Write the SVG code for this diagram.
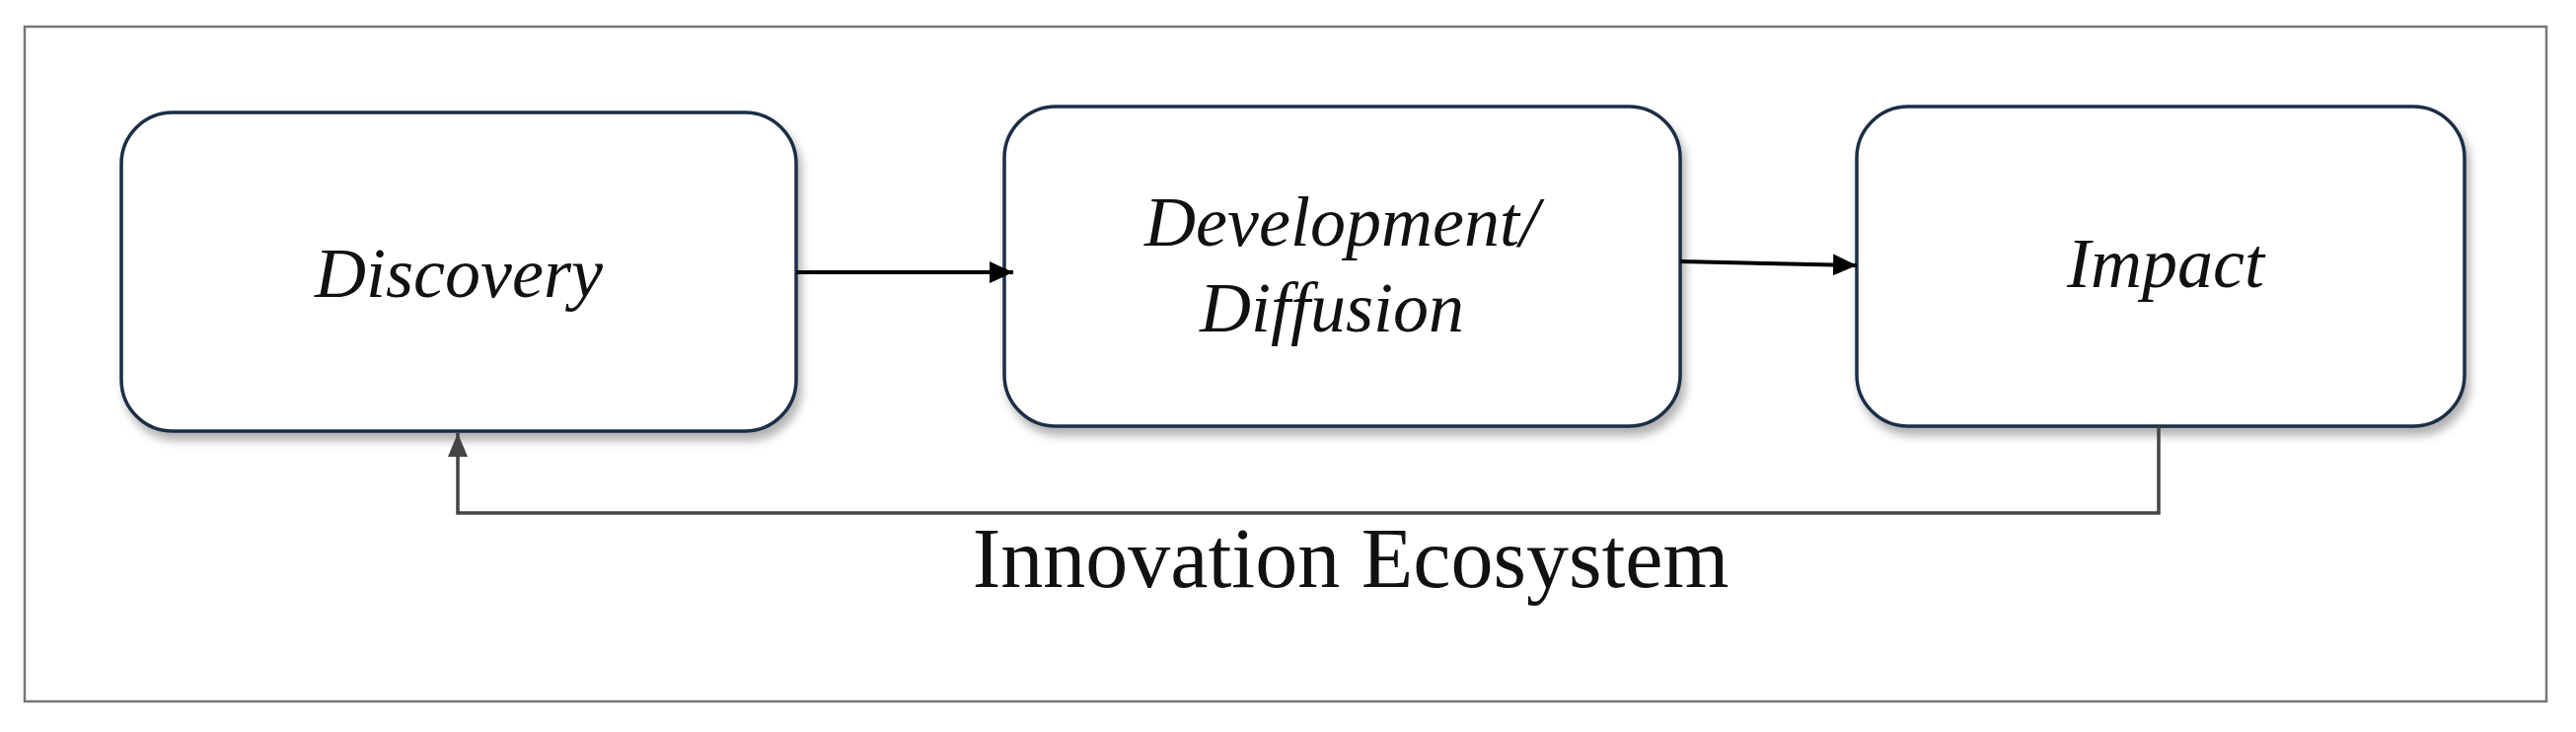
<svg xmlns="http://www.w3.org/2000/svg" width="2611" height="742" viewBox="0 0 2611 742">
<style>
.box{fill:#fff;stroke:#1b2f45;stroke-width:3.5}
.lbl{font-family:"Liberation Serif",serif;font-style:italic;font-size:72px;fill:#111;text-anchor:middle}
.ln{fill:none;stroke-width:4}
</style>
<defs>
<filter id="sh" x="-10%" y="-10%" width="120%" height="130%"><feDropShadow dx="4" dy="8" stdDeviation="5" flood-color="#000" flood-opacity="0.3"/></filter>
<marker id="ah" markerWidth="24" markerHeight="22" refX="24" refY="11" orient="auto" markerUnits="userSpaceOnUse" viewBox="0 0 24 22"><path d="M0,0 L24,11 L0,22 z" fill="#000"/></marker>
<marker id="ag" markerWidth="24" markerHeight="20" refX="24" refY="10" orient="auto" markerUnits="userSpaceOnUse" viewBox="0 0 24 20"><path d="M0,0 L24,10 L0,20 z" fill="#444"/></marker>
</defs>
<rect x="0" y="0" width="2611" height="742" fill="#fff"/>
<rect x="25" y="27" width="2556" height="684" fill="#fff" stroke="#777" stroke-width="2.5"/>
<g id="discovery"><rect class="box" filter="url(#sh)" x="123" y="114" width="684" height="323" rx="52"/><text class="lbl" x="465" y="301">Discovery</text></g>
<g id="development"><rect class="box" filter="url(#sh)" x="1018" y="108" width="685" height="324" rx="52"/><text class="lbl" x="1360" y="249">Development/</text><text class="lbl" x="1350" y="336">Diffusion</text></g>
<g id="impact"><rect class="box" filter="url(#sh)" x="1882" y="108" width="616" height="324" rx="52"/><text class="lbl" x="2195" y="291">Impact</text></g>
<g id="connectors">
<path class="ln" stroke="#000" d="M807,276 L1027,276" marker-end="url(#ah)"/>
<path class="ln" stroke="#000" d="M1703,265 L1882,269" marker-end="url(#ah)"/>
<path class="ln" stroke="#444" d="M2188,432 L2188,520 L464,520 L464,439" marker-end="url(#ag)" style="stroke-width:3.5"/>
</g>
<text x="1369" y="595" font-family="Liberation Serif,serif" font-size="86" fill="#111" text-anchor="middle">Innovation Ecosystem</text>
</svg>
